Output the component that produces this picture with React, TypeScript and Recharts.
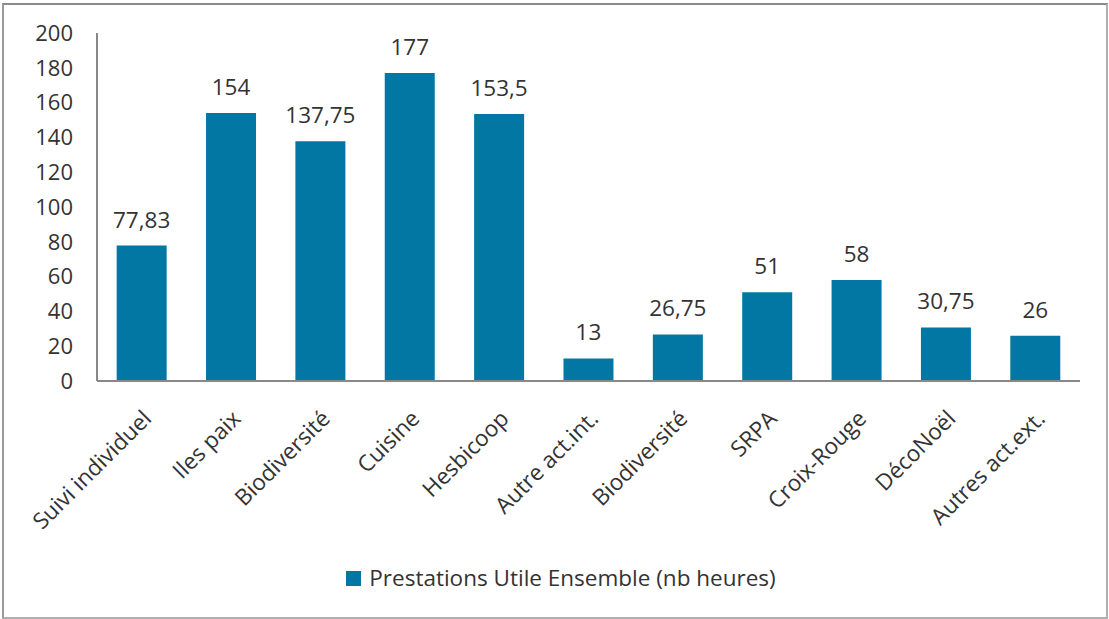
import React from 'react';
import { BarChart, Bar, XAxis, YAxis, LabelList, Legend } from 'recharts';

const categories = [
  'Suivi individuel', 'Iles paix', 'Biodiversité', 'Cuisine', 'Hesbicoop',
  'Autre act.int.', 'Biodiversité', 'SRPA', 'Croix-Rouge', 'DécoNoël', 'Autres act.ext.',
];
const hours = [77.83, 154, 137.75, 177, 153.5, 13, 26.75, 51, 58, 30.75, 26];
const yTicks = [0, 20, 40, 60, 80, 100, 120, 140, 160, 180, 200];
const seriesName = 'Prestations Utile Ensemble (nb heures)';

const data = categories.map((c, i) => ({ key: `${i}`, name: c, value: hours[i] }));

const FONT = '"Open Sans", Lato, sans-serif';
const TEXT = '#333333';
const BAR = '#0377a4';
const FS = 22.5;

const XTick = (props: any) => {
  const { x, y, payload } = props;
  const label = categories[Number(payload.value)];
  return (
    <g transform={`translate(${x + 4},${y + 24})`}>
      <text
        x={0}
        y={0}
        dy={10}
        textAnchor="end"
        transform="rotate(-45)"
        fill={TEXT}
        fontSize={FS}
        fontFamily={FONT}
      >
        {label}
      </text>
    </g>
  );
};

const LegendContent = () => (
  <div style={{ display: 'flex', justifyContent: 'center', alignItems: 'center', fontFamily: FONT, fontSize: FS, color: TEXT, paddingLeft: 42, lineHeight: '28px' }}>
    <span style={{ display: 'inline-block', width: 15, height: 15, background: BAR, marginRight: 8 }} />
    <span>{seriesName}</span>
  </div>
);

export default function App() {
  return (
    <div style={{ position: 'absolute', left: 0, top: 0, width: 1109, height: 619, background: '#fff' }}>
      <div style={{ position: 'absolute', left: 2, top: 3, width: 1102, height: 612, borderTop: '2px solid #8a8a8a', borderLeft: '2px solid #9a9a9a', borderRight: '2px solid #b0b0b0', borderBottom: '2px solid #b0b0b0' }} />
      <div style={{ position: 'absolute', left: 0, top: 0 }}>
        <BarChart
          width={1109}
          height={619}
          data={data}
          margin={{ top: 33, right: 29, left: 0, bottom: 0 }}
          barCategoryGap="22%"
        >
          <XAxis
            dataKey="key"
            axisLine={{ stroke: '#888888', strokeWidth: 2 }}
            tickLine={false}
            interval={0}
            height={150}
            tick={<XTick />}
          />
          <YAxis
            width={97}
            domain={[0, 200]}
            ticks={yTicks}
            interval={0}
            axisLine={{ stroke: '#888888', strokeWidth: 2 }}
            tickLine={false}
            tickMargin={18}
            tick={{ fill: TEXT, fontSize: 22, fontFamily: FONT }}
          />
          <Legend
            verticalAlign="bottom"
            height={88}
            content={<LegendContent />}
            wrapperStyle={{ top: 564, bottom: 'auto' }}
          />
          <Bar dataKey="value" name={seriesName} fill={BAR} isAnimationActive={false}>
            <LabelList
              dataKey="value"
              position="top"
              offset={18}
              formatter={(v: any) => String(v).replace('.', ',')}
              style={{ fill: TEXT, fontSize: FS, fontFamily: FONT }}
            />
          </Bar>
        </BarChart>
      </div>
    </div>
  );
}
